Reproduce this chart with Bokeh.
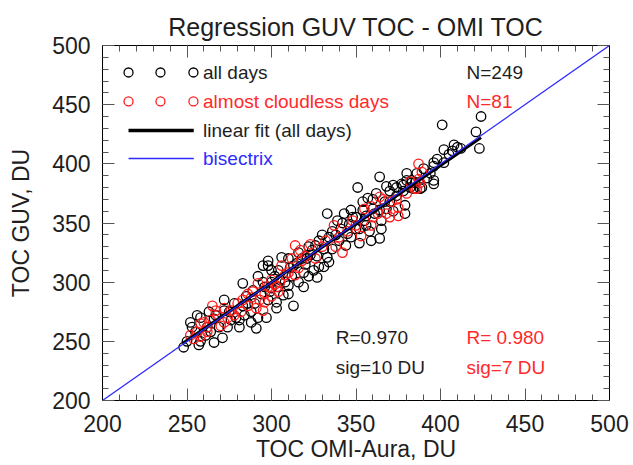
from bokeh.plotting import figure
from bokeh.models import LinearAxis, SingleIntervalTicker, Range1d
from bokeh.core.properties import value
from bokeh.embed import file_html
from bokeh.resources import INLINE

# ---- data ----
all_x = [424, 401, 421, 423, 408, 410, 407, 412, 402, 402, 396, 396, 396, 396, 388, 383, 377, 389, 384, 382,
         392, 380, 398, 405, 385, 378,
         364, 351, 357, 370, 374, 378, 383, 368, 372, 362, 360, 333, 343, 347, 354, 361, 364, 367, 379, 379,
         365, 356, 364, 359, 350, 345, 341, 339, 336, 340, 344, 336, 333, 331, 328, 334, 324, 323, 321, 315,
         319, 327, 326, 355, 352, 368, 372, 346, 350, 356, 370, 374, 365, 358, 347, 352,
         248, 250, 257, 261, 266, 271, 256, 266, 267, 272, 279, 281, 281, 283, 288, 291, 289, 298, 296, 294,
         303, 299, 307, 310, 304, 295, 298, 306, 310, 313, 298,
         253, 255, 262, 258, 263, 276, 275, 283, 285, 290, 272, 278, 300, 302, 305, 312, 316, 319, 322, 325,
         318, 322, 328, 330, 334, 300, 308, 292, 288, 297, 303, 310, 313, 300,
         252, 258, 264, 269, 274, 284, 286, 292, 295, 304, 311, 316, 320, 327, 331, 338, 342, 348, 354, 360,
         386, 390, 394, 380]
all_y = [440, 433, 427, 413, 416, 414, 411, 413, 412, 401, 401, 398, 386, 383, 379, 386, 383, 380, 379, 380,
         388, 392, 404, 408, 384, 377,
         389, 380, 371, 377, 380, 382, 384, 381, 382, 375, 370, 358, 358, 361, 361, 358, 361, 368, 365, 358,
         352, 348, 337, 335, 345, 341, 345, 352, 343, 335, 331, 328, 321, 313, 313, 317, 327, 323, 320, 316,
         308, 304, 331, 352, 345, 362, 360, 349, 355, 356, 368, 373, 345, 343, 338, 333,
         245, 250, 247, 255, 249, 253, 272, 269, 272, 276, 270, 268, 262, 299, 266, 261, 293, 285, 296, 290,
         278, 292, 289, 297, 310, 314, 314, 321, 320, 314, 318,
         262, 258, 262, 270, 275, 268, 275, 280, 288, 282, 285, 282, 300, 305, 302, 305, 300, 296, 305, 310,
         320, 330, 335, 340, 338, 295, 300, 305, 275, 270, 283, 290, 280, 310,
         266, 250, 258, 262, 262, 272, 282, 270, 300, 296, 312, 325, 315, 322, 328, 340, 350, 355, 368, 362,
         392, 396, 392, 386]

clear_x = [387, 389, 387, 385, 386, 364, 359, 371, 374, 375, 375, 368, 370, 359, 353, 348, 337, 338, 342, 314,
           317, 312, 323, 254, 258, 260, 270, 272, 265, 282, 286, 288, 293, 291, 295, 292, 303, 308, 314, 306,
           252, 256, 262, 264, 268, 274, 276, 280, 283, 286, 289, 296, 298, 300, 302, 305, 310, 316, 318, 320,
           326, 330, 332, 345, 350, 360, 363, 380, 382, 388, 300, 278, 272, 262, 258, 267, 296, 304, 340, 355,
           366]
clear_y = [400, 393, 387, 379, 379, 372, 364, 368, 370, 363, 356, 358, 355, 348, 339, 352, 348, 330, 325, 331,
           327, 320, 332, 252, 265, 266, 263, 266, 280, 275, 280, 287, 285, 278, 276, 299, 296, 306, 306, 314,
           255, 258, 262, 268, 272, 270, 276, 282, 285, 290, 292, 290, 296, 302, 298, 300, 308, 312, 318, 322,
           320, 330, 335, 343, 348, 355, 358, 375, 385, 384, 288, 272, 278, 258, 254, 276, 283, 292, 338, 362,
           370]

fit_x = [248, 424]
fit_slope = 0.985
fit_intercept = 4.5
fit_y = [fit_slope * v + fit_intercept for v in fit_x]

bis = [200, 500]
tick_values = list(range(200, 501, 50))

n_all = "N=249"
n_clear = "N=81"
r_all = "R=0.970"
r_clear = "R= 0.980"
sig_all = "sig=10 DU"
sig_clear = "sig=7 DU"

FONT = "Liberation Sans"
TXT = "#1e1e1e"
RED = "#ff2a2a"
BLUE = "#2b2bff"

p = figure(width=633, height=465, x_range=Range1d(200, 500), y_range=Range1d(200, 500),
           output_backend="svg", toolbar_location=None,
           min_border_left=102, min_border_right=24, min_border_top=45, min_border_bottom=65,
           title="Regression GUV TOC - OMI TOC")
p.title.text_font = FONT
p.title.text_font_size = "25px"
p.title.text_font_style = "normal"
p.title.text_color = TXT
p.title.align = "center"
p.grid.visible = False
p.outline_line_color = "black"
p.background_fill_color = "white"
p.border_fill_color = "white"

ticker = SingleIntervalTicker(interval=50, num_minor_ticks=5)


def style_axis(ax, labels=True):
    ax.ticker = ticker
    ax.major_tick_in = 12
    ax.major_tick_out = 0
    ax.minor_tick_in = 6
    ax.minor_tick_out = 0
    ax.axis_line_color = "black"
    ax.major_tick_line_color = "#555555"
    ax.minor_tick_line_color = "#555555"
    if labels:
        ax.major_label_text_font = FONT
        ax.major_label_text_font_size = "23px"
        ax.major_label_text_color = TXT
        ax.axis_label_text_font = FONT
        ax.axis_label_text_font_size = "23px"
        ax.axis_label_text_font_style = "normal"
        ax.axis_label_text_color = TXT
    else:
        ax.major_label_overrides = {v: "" for v in tick_values}
        ax.major_label_standoff = 0


style_axis(p.xaxis[0])
style_axis(p.yaxis[0])
p.xaxis[0].axis_label = "TOC OMI-Aura, DU"
p.yaxis[0].axis_label = "TOC GUV, DU"
p.xaxis[0].major_label_standoff = 14
p.yaxis[0].major_label_standoff = 12
p.xaxis[0].axis_label_standoff = 1
p.yaxis[0].axis_label_standoff = 15

top_ax = LinearAxis()
right_ax = LinearAxis()
style_axis(top_ax, labels=False)
style_axis(right_ax, labels=False)
p.add_layout(top_ax, "above")
p.add_layout(right_ax, "right")

# data
p.scatter(all_x, all_y, marker="circle", size=9.5, fill_color=None, line_color="black", line_width=1.3)
p.scatter(clear_x, clear_y, marker="circle", size=9.5, fill_color=None, line_color="#ff1a1a", line_width=1.3)
p.line(fit_x, fit_y, line_color="black", line_width=3)
p.line(bis, bis, line_color=BLUE, line_width=1.3)

# legend (drawn inside the frame)
p.scatter([215.4, 234.3, 253.8], [477.2] * 3, marker="circle", size=9, fill_color=None,
          line_color="black", line_width=1.3)
p.scatter([215.4, 234.3, 253.8], [452.7] * 3, marker="circle", size=9, fill_color=None,
          line_color="#ff1a1a", line_width=1.3)
p.line([215.4, 254], [428.2, 428.2], line_color="black", line_width=3.5)
p.line([215.4, 254], [404.5, 404.5], line_color=BLUE, line_width=1.5)


def txt(x, y, s, color):
    p.text([x], [y], text=[s], text_font=value(FONT), text_font_size="19px",
           text_color=color, text_baseline="middle", text_align="left")


txt(259.5, 477.2, "all days", TXT)
txt(259.5, 452.7, "almost cloudless days", RED)
txt(259.5, 428.2, "linear fit (all days)", TXT)
txt(259.5, 404.5, "bisectrix", BLUE)
txt(415.4, 477.2, n_all, TXT)
txt(415.4, 452.7, n_clear, RED)
txt(338, 253.2, r_all, TXT)
txt(415.4, 253.2, r_clear, RED)
txt(338, 227.9, sig_all, TXT)
txt(415.4, 227.9, sig_clear, RED)

open("out.html", "w").write(file_html(p, INLINE))
